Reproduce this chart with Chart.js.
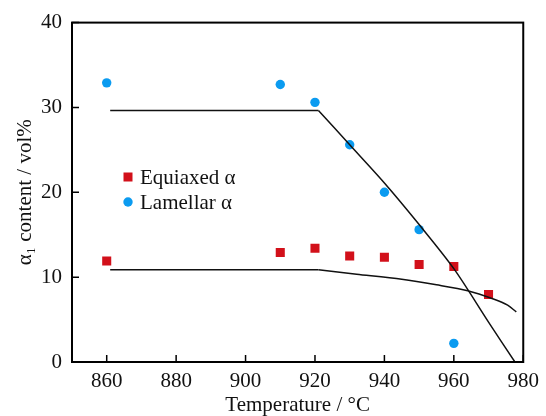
<!DOCTYPE html>
<html>
<head>
<meta charset="utf-8">
<script src="https://cdn.jsdelivr.net/npm/chart.js@4/dist/chart.umd.min.js"></script>
<style>
  html, body { margin: 0; padding: 0; background: #fff; }
  #wrap { position: relative; width: 546px; height: 416px; }
</style>
</head>
<body>
<div id="wrap"><canvas id="c" width="546" height="416"></canvas></div>
<script>
// measured points
const temps = [860, 910, 920, 930, 940, 950, 960, 970];
const equiaxed = [11.9, 12.9, 13.4, 12.5, 12.35, 11.5, 11.25, 7.95];
const lamellarTemps = [860, 910, 920, 930, 940, 950, 960];
const lamellar = [32.9, 32.7, 30.6, 25.6, 20.0, 15.6, 2.2];

// trend lines: flat part, then the falling part
const upperFlatX = [861, 921];
const upperFlatY = [29.65, 29.65];
const upperFallX = [921, 930, 940, 950, 960, 970, 977.6];
const upperFallY = [29.65, 25.6, 21.1, 16.2, 11.0, 4.7, 0];
const lowerFlatX = [861, 921];
const lowerFlatY = [10.86, 10.86];
const lowerFallX = [921, 932, 945, 955, 964, 971.6, 975.5, 978];
const lowerFallY = [10.86, 10.35, 9.75, 9.1, 8.4, 7.4, 6.7, 5.9];

const xTicks = [860, 880, 900, 920, 940, 960, 980];
const yTicks = [0, 10, 20, 30, 40];

const RED = '#d2101a';
const BLUE = '#0b9bf0';
const FONT = "'Liberation Serif', 'DejaVu Serif', serif";

const pts = (xs, ys) => xs.map((x, i) => ({ x, y: ys[i] }));
const trend = (xs, ys, tension) => ({ data: pts(xs, ys), showLine: true, pointRadius: 0, borderColor: '#111', borderWidth: 1.5, tension });

// inward tick marks + box
const frame = {
  id: 'frame',
  afterDraw(chart) {
    const { ctx, chartArea: a, scales: { x, y } } = chart;
    ctx.save();
    ctx.strokeStyle = '#000';
    ctx.lineWidth = 1.5;
    ctx.beginPath();
    xTicks.forEach(v => { const px = x.getPixelForValue(v); ctx.moveTo(px, a.bottom); ctx.lineTo(px, a.bottom - 7); });
    yTicks.forEach(v => { const py = y.getPixelForValue(v); ctx.moveTo(a.left, py); ctx.lineTo(a.left + 7, py); });
    ctx.stroke();
    ctx.lineWidth = 2;
    ctx.strokeRect(a.left, a.top, a.right - a.left, a.bottom - a.top);
    ctx.restore();
  }
};

// legend inside the plot
const innerLegend = {
  id: 'innerLegend',
  afterDraw(chart) {
    const { ctx } = chart;
    const items = chart.data.datasets.filter(d => d.showInLegend);
    ctx.save();
    ctx.font = '21px ' + FONT;
    ctx.textBaseline = 'middle';
    items.forEach((d, i) => {
      const cx = 128, cy = 177 + i * 25;
      ctx.fillStyle = d.backgroundColor;
      if (d.pointStyle === 'rect') ctx.fillRect(cx - 4.5, cy - 4.5, 9, 9);
      else { ctx.beginPath(); ctx.arc(cx, cy, 4.7, 0, Math.PI * 2); ctx.fill(); }
      ctx.fillStyle = '#111';
      ctx.fillText(d.label, 140, cy + 1);
    });
    ctx.restore();
  }
};

new Chart(document.getElementById('c'), {
  type: 'scatter',
  data: {
    datasets: [
      trend(upperFlatX, upperFlatY, 0),
      trend(upperFallX, upperFallY, 0.3),
      trend(lowerFlatX, lowerFlatY, 0),
      trend(lowerFallX, lowerFallY, 0.3),
      { label: 'Equiaxed α', showInLegend: true, data: pts(temps, equiaxed), pointStyle: 'rect', pointRadius: 6.4, borderWidth: 0, backgroundColor: RED, borderColor: RED },
      { label: 'Lamellar α', showInLegend: true, data: pts(lamellarTemps, lamellar), pointStyle: 'circle', pointRadius: 4.7, borderWidth: 0, backgroundColor: BLUE, borderColor: BLUE },
    ],
  },
  options: {
    responsive: false,
    animation: false,
    layout: { padding: { left: 0, right: 16, top: 22, bottom: 0 } },
    plugins: { legend: { display: false }, tooltip: { enabled: false } },
    scales: {
      x: {
        type: 'linear', min: 850, max: 980,
        afterBuildTicks: s => { s.ticks = xTicks.map(v => ({ value: v })); },
        afterFit: s => { s.height = 54; },
        grid: { display: false, drawTicks: false },
        border: { display: false },
        ticks: { padding: 7, color: '#111', font: { family: FONT, size: 21 } },
        title: { display: true, text: 'Temperature / °C', color: '#111', padding: { top: 0, bottom: 0 }, font: { family: FONT, size: 21, lineHeight: 1 } },
      },
      y: {
        min: 0, max: 40,
        afterBuildTicks: s => { s.ticks = yTicks.map(v => ({ value: v })); },
        afterFit: s => { s.width = 72; },
        grid: { display: false, drawTicks: false },
        border: { display: false },
        ticks: { padding: 10, color: '#111', font: { family: FONT, size: 21 } },
        title: { display: true, text: 'α₁ content / vol%', color: '#111', padding: { top: 15, bottom: 0 }, font: { family: FONT, size: 21, lineHeight: 1 } },
      },
    },
  },
  plugins: [frame, innerLegend],
});
</script>
</body>
</html>
